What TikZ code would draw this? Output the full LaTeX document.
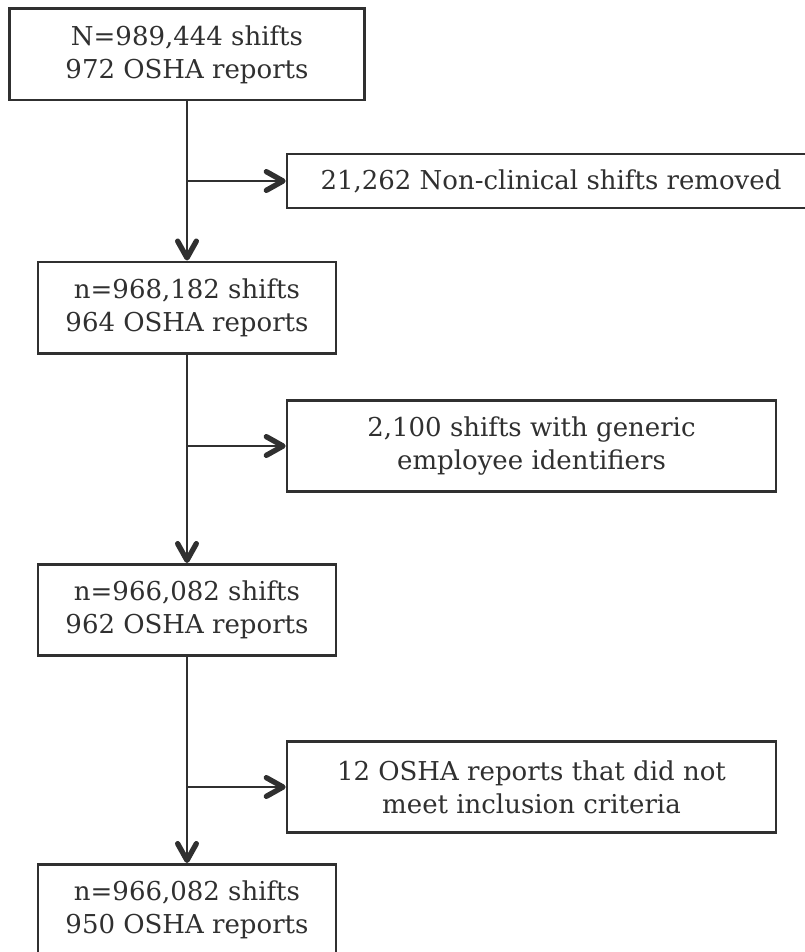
\documentclass[tikz,border=0pt]{standalone}
\usepackage{fontspec}
\setmainfont{DejaVu Serif}
\usepackage{tikz}
\usetikzlibrary{arrows.meta, positioning}
\definecolor{ink}{HTML}{303030}

\tikzset{
  stage/.style={draw=ink, line width=2pt, text=ink, align=center, inner sep=0pt,
                font=\fontsize{19.5pt}{24.75pt}\selectfont, minimum height=68.5pt},
  excl/.style={stage, minimum width=366.75pt},
  flow/.style={draw=ink, line width=2pt,
               -{Straight Barb[length=12.5pt,width=14pt,line width=4pt,round]}}
}

\begin{document}
\begin{tikzpicture}[x=0.75pt, y=-0.75pt]
\useasboundingbox (0,0) rectangle (805,952);
%
\node[stage, minimum width=266.25pt] (all)  at (187,54.5) {N=989,444 shifts\\972 OSHA reports};
\node[stage, minimum width=223.5pt]  (clin) at (187,307.5) {n=968,182 shifts\\964 OSHA reports};
\node[stage, minimum width=223.5pt]  (ids)  at (187,610) {n=966,082 shifts\\962 OSHA reports};
\node[stage, minimum width=223.5pt]  (final) at (187,910) {n=966,082 shifts\\950 OSHA reports};

\node[stage, minimum width=396pt, minimum height=40.5pt] (nonclin) at (551,181) {21,262 Non-clinical shifts removed};
\node[excl] (generic) at (531.5,446) {2,100 shifts with generic\\employee identifiers};
\node[excl] (crit)    at (531.5,787) {12 OSHA reports that did not\\meet inclusion criteria};

\coordinate (b1) at (187,181);
\coordinate (b2) at (187,446);
\coordinate (b3) at (187,787);

\draw[flow] (all.south) -- (clin.north);
\draw[flow] (clin.south) -- (ids.north);
\draw[flow] (ids.south) -- (final.north);

\draw[flow] (b1) -- (nonclin.west);
\draw[flow] (b2) -- (generic.west);
\draw[flow] (b3) -- (crit.west);
%
\end{tikzpicture}
\end{document}
